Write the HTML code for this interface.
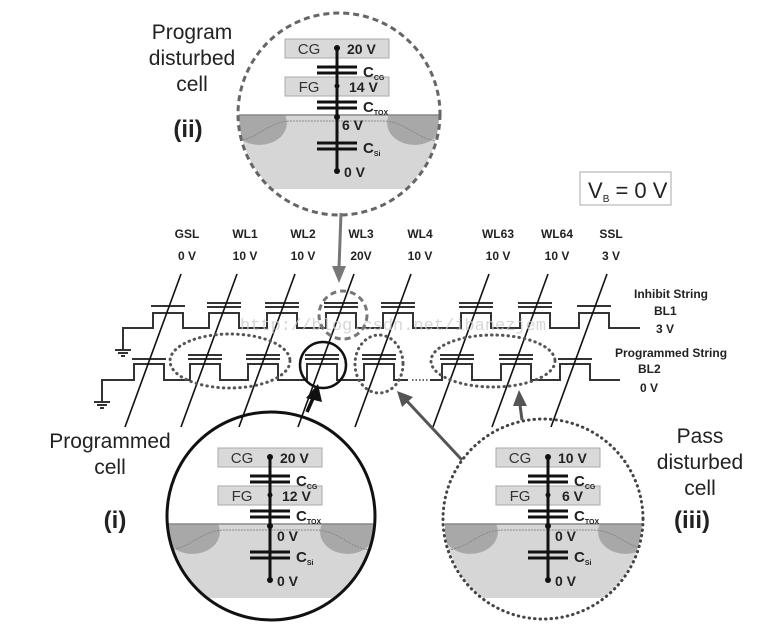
<!DOCTYPE html>
<html><head><meta charset="utf-8"><style>
html,body{margin:0;padding:0;background:#fff;}
svg{display:block;font-family:"Liberation Sans",sans-serif;}
</style></head><body>
<svg width="767" height="627" viewBox="0 0 767 627" xmlns="http://www.w3.org/2000/svg">
<defs>
<clipPath id="c2"><circle cx="339" cy="114" r="100"/></clipPath>
<clipPath id="c1"><circle cx="271" cy="516" r="103"/></clipPath>
<clipPath id="c3"><circle cx="543" cy="519" r="99"/></clipPath>
<g id="tr">
<rect x="-103" y="76" width="206" height="74" fill="#d6d6d6"/>
<path d="M-103,76 H-52 A25,20 0 0 1 -103,92 Z" fill="#a8a8a8"/>
<path d="M52,76 H103 V92 A25,20 0 0 1 52,76 Z" fill="#a8a8a8"/>
<path d="M-103,102 C-80,102 -70,82 -45,82 H45 C70,82 80,102 103,102" fill="none" stroke="#888" stroke-width="1" stroke-dasharray="2 1"/>
<line x1="-103" y1="76" x2="103" y2="76" stroke="#888" stroke-width="1.5"/>
<rect x="-52" y="0" width="104" height="19" fill="#d9d9d9" stroke="#aaa"/>
<rect x="-52" y="38" width="104" height="19" fill="#d9d9d9" stroke="#aaa"/>
<text x="-28" y="15" font-size="15" fill="#333" text-anchor="middle">CG</text>
<text x="-28" y="53" font-size="15" fill="#333" text-anchor="middle">FG</text>
<line x1="0" y1="9" x2="0" y2="132" stroke="#111" stroke-width="3"/>
<g stroke="#111" stroke-width="3">
<line x1="-20" y1="28" x2="20" y2="28"/><line x1="-20" y1="34" x2="20" y2="34"/>
<line x1="-20" y1="63" x2="20" y2="63"/><line x1="-20" y1="69" x2="20" y2="69"/>
<line x1="-20" y1="104" x2="20" y2="104"/><line x1="-20" y1="110" x2="20" y2="110"/>
</g>
<g fill="#111"><circle cx="0" cy="9" r="3"/><circle cx="0" cy="47" r="2.5"/><circle cx="0" cy="78" r="3"/><circle cx="0" cy="132" r="3"/></g>
<g font-weight="bold" fill="#222">
<text x="26" y="38" font-size="15">C<tspan font-size="7" dy="3">CG</tspan></text>
<text x="26" y="73" font-size="15">C<tspan font-size="7" dy="3">TOX</tspan></text>
<text x="26" y="114" font-size="15">C<tspan font-size="7" dy="3">Si</tspan></text>
<text x="7" y="138" font-size="14">0 V</text>
</g>
</g>
</defs>

<!-- (ii) -->
<g clip-path="url(#c2)"><g transform="translate(337,39)"><use href="#tr"/>
<text x="10" y="15" font-size="14" font-weight="bold" fill="#222">20 V</text>
<text x="12" y="53" font-size="14" font-weight="bold" fill="#222">14 V</text>
<text x="5" y="91" font-size="14" font-weight="bold" fill="#222">6 V</text></g></g>
<circle cx="339" cy="114" r="101" fill="none" stroke="#666" stroke-width="3" stroke-dasharray="6 4"/>

<!-- (i) -->
<g clip-path="url(#c1)"><g transform="translate(270,448)"><use href="#tr"/>
<text x="10" y="15" font-size="14" font-weight="bold" fill="#222">20 V</text>
<text x="12" y="53" font-size="14" font-weight="bold" fill="#222">12 V</text>
<text x="7" y="93" font-size="14" font-weight="bold" fill="#222">0 V</text></g></g>
<circle cx="271" cy="516" r="104" fill="none" stroke="#111" stroke-width="3"/>

<!-- (iii) -->
<g clip-path="url(#c3)"><g transform="translate(548,448)"><use href="#tr"/>
<text x="10" y="15" font-size="14" font-weight="bold" fill="#222">10 V</text>
<text x="14" y="53" font-size="14" font-weight="bold" fill="#222">6 V</text>
<text x="7" y="93" font-size="14" font-weight="bold" fill="#222">0 V</text></g></g>
<circle cx="543" cy="519" r="100" fill="none" stroke="#444" stroke-width="3" stroke-dasharray="0.5 5" stroke-linecap="round"/>

<!-- text labels -->
<g font-size="21" fill="#222" text-anchor="middle">
<text x="192" y="39">Program</text><text x="192" y="65">disturbed</text><text x="192" y="91">cell</text>
<text x="110" y="448">Programmed</text><text x="110" y="474">cell</text>
<text x="700" y="443">Pass</text><text x="700" y="469">disturbed</text><text x="700" y="495">cell</text>
</g>
<g font-size="24" font-weight="bold" fill="#222" text-anchor="middle">
<text x="188" y="137">(ii)</text><text x="115" y="528">(i)</text><text x="692" y="528">(iii)</text>
</g>
<rect x="580" y="172" width="91" height="33" fill="#fff" stroke="#aaa"/>
<text x="588" y="198" font-size="22" fill="#222">V<tspan font-size="10" dy="4">B</tspan><tspan dy="-4"> = 0 V</tspan></text>

<g font-size="12" font-weight="bold" fill="#222" text-anchor="middle">
<text x="187" y="238">GSL</text><text x="187" y="260">0 V</text>
<text x="245" y="238">WL1</text><text x="245" y="260">10 V</text>
<text x="303" y="238">WL2</text><text x="303" y="260">10 V</text>
<text x="361" y="238">WL3</text><text x="361" y="260">20V</text>
<text x="420" y="238">WL4</text><text x="420" y="260">10 V</text>
<text x="498" y="238">WL63</text><text x="498" y="260">10 V</text>
<text x="557" y="238">WL64</text><text x="557" y="260">10 V</text>
<text x="611" y="238">SSL</text><text x="611" y="260">3 V</text>
</g>
<g font-size="12" font-weight="bold" fill="#222">
<text x="634" y="298">Inhibit String</text><text x="654" y="315">BL1</text><text x="656" y="333">3 V</text>
<text x="615" y="357">Programmed String</text><text x="638" y="373">BL2</text><text x="640" y="392">0 V</text>
</g>

<!-- strings -->
<g fill="none" stroke="#333" stroke-width="2">
<path d="M123,350 V328 H153 V313 H183 V328 H209 V313 H239 V328 H267 V313 H297 V328 H326 V313 H356 V328 H383 V313 H413 V328 H461 V313 H491 V328 H520 V313 H550 V328 H579 V313 H609 V328 H640"/>
<path d="M102,402 V380 H134 V364 H164 V380 H190 V364 H220 V380 H248 V364 H278 V380 H307 V364 H337 V380 H364 V364 H394 V380 H408 M430,380 H442 V364 H472 V380 H501 V364 H531 V380 H560 V364 H590 V380 H620"/>
<line x1="412" y1="380" x2="428" y2="380" stroke-dasharray="1.5 2" stroke-width="1.5"/>
<path d="M115,350 H131 M118,353 H128 M121,356 H125"/>
<path d="M94,402 H110 M97,405 H107 M100,408 H104"/>
<!-- gates top -->
<path d="M151,306 H185 M207,303 H241 M207,307 H241 M265,303 H299 M265,307 H299 M324,303 H358 M324,307 H358 M381,303 H415 M381,307 H415 M459,303 H493 M459,307 H493 M518,303 H552 M518,307 H552 M577,306 H611"/>
<path d="M132,359 H166 M188,355 H222 M188,359 H222 M246,355 H280 M246,359 H280 M305,355 H339 M305,359 H339 M362,355 H396 M362,359 H396 M440,355 H474 M440,359 H474 M499,355 H533 M499,359 H533 M558,359 H592"/>
</g>
<!-- word lines -->
<g stroke="#111" stroke-width="1.6">
<line x1="181" y1="274" x2="125" y2="427"/><line x1="237" y1="274" x2="181" y2="427"/>
<line x1="295" y1="274" x2="239" y2="427"/><line x1="354" y1="274" x2="298" y2="427"/>
<line x1="411" y1="274" x2="355" y2="427"/><line x1="489" y1="274" x2="433" y2="427"/>
<line x1="548" y1="274" x2="492" y2="427"/><line x1="607" y1="274" x2="551" y2="427"/>
</g>
<text x="240" y="330" font-family="Liberation Mono,monospace" font-size="17" fill="#ccc" opacity="0.8">http://blog.csdn.net/ibanezjem</text>
<!-- highlights -->
<circle cx="343" cy="315" r="24" fill="none" stroke="#777" stroke-width="3" stroke-dasharray="6 4"/>
<circle cx="323" cy="365" r="23" fill="none" stroke="#111" stroke-width="2.5"/>
<g fill="none" stroke="#555" stroke-width="3" stroke-dasharray="0.5 5" stroke-linecap="round">
<ellipse cx="230" cy="361" rx="60" ry="27"/><ellipse cx="379" cy="364" rx="24" ry="29"/><ellipse cx="493" cy="361" rx="62" ry="26"/>
</g>
<!-- arrows -->
<line x1="341" y1="213" x2="339" y2="268" stroke="#777" stroke-width="3"/>
<polygon points="332,266 346,266 339,283" fill="#777"/>
<line x1="307" y1="412" x2="314" y2="396" stroke="#111" stroke-width="3.5"/>
<polygon points="306,398 322,402 318,384" fill="#111"/>
<line x1="462" y1="460" x2="406" y2="400" stroke="#555" stroke-width="3"/>
<polygon points="397,391 413,397 402,407" fill="#555"/>
<line x1="522" y1="420" x2="520" y2="405" stroke="#555" stroke-width="3"/>
<polygon points="513,406 527,406 519,390" fill="#555"/>
</svg>
</body></html>
